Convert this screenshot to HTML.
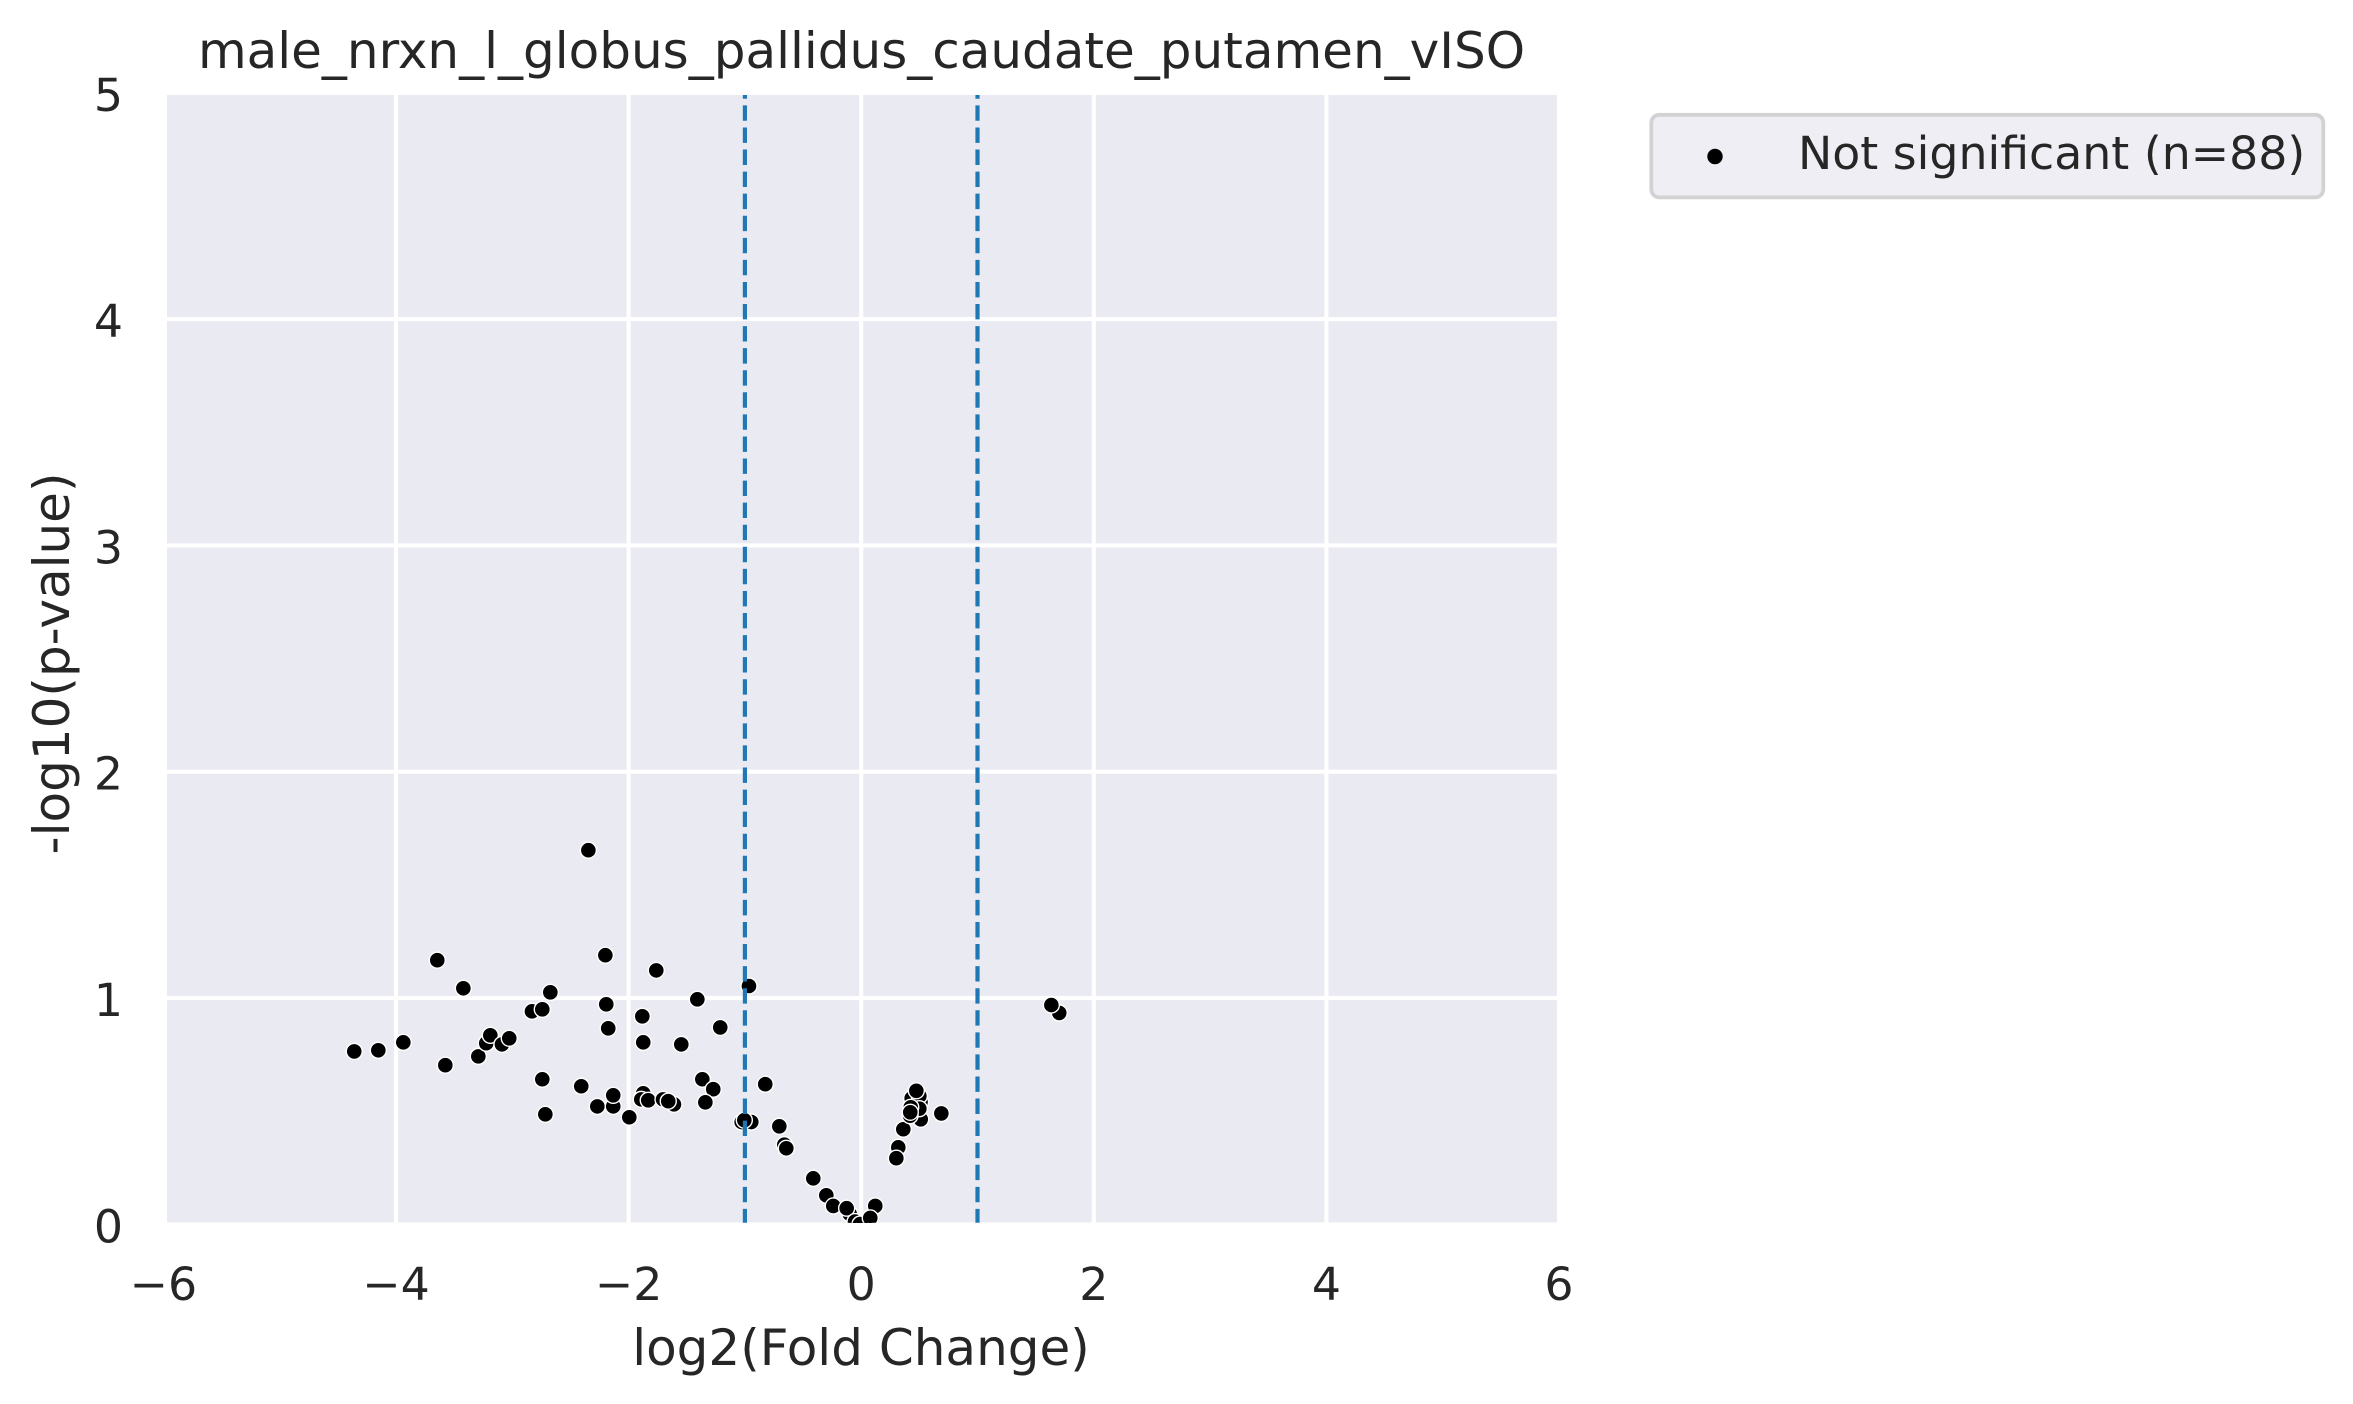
<!DOCTYPE html>
<html lang="en">
<head>
<meta charset="utf-8">
<title>male_nrxn_l_globus_pallidus_caudate_putamen_vISO</title>
<style>
html,body{margin:0;padding:0;background:#fff;}
svg{display:block;}
text{font-family:"DejaVu Sans","Liberation Sans",sans-serif;fill:#262626;}
.tick{font-size:45.8px;}
.label{font-size:50px;}
</style>
</head>
<body>
<svg id="chart" xmlns="http://www.w3.org/2000/svg" width="2353" height="1404" viewBox="0 0 2353 1404">
  <defs>
    <clipPath id="plot-clip"><rect x="167" y="95" width="1390" height="1127.7"></rect></clipPath>
  </defs>
  <rect x="167" y="95" width="1390" height="1127.7" fill="#EAEAF2"></rect>
  <g id="grid" clip-path="url(#plot-clip)"></g>
  <g id="points" clip-path="url(#plot-clip)"></g>
  <g id="thresholds" clip-path="url(#plot-clip)"></g>
  <g id="x-ticks"></g>
  <g id="y-ticks"></g>
  <text class="label" x="861.5" y="68" text-anchor="middle">male_nrxn_l_globus_pallidus_caudate_putamen_vISO</text>
  <text class="label" x="861" y="1365" text-anchor="middle">log2(Fold Change)</text>
  <text class="label" x="0" y="0" text-anchor="middle" transform="translate(69 663.5) rotate(-90)">-log10(p-value)</text>
  <g>
    <rect x="1651.3" y="114.8" width="672" height="82.6" rx="8" ry="8" fill="#EEEEF4" stroke="#D2D2D2" stroke-width="3.8"></rect>
    <circle cx="1715" cy="156.5" r="7.7" fill="#000"></circle>
    <text class="tick" x="1798" y="169">Not significant (n=88)</text>
  </g>
</svg>
<script>
const xTicks = [-6, -4, -2, 0, 2, 4, 6];
const xTickLabels = ["\u22126", "\u22124", "\u22122", "0", "2", "4", "6"];
const yTicks = [0, 1, 2, 3, 4, 5];
const yTickLabels = ["0", "1", "2", "3", "4", "5"];
const thresholds = [-1, 1];
const log2FoldChange = [
  -0.030, 0.020, 0.045, -0.015, 0.040, 0.005, -0.040, 0.035, 0.012, -0.025, 0.030, -0.008, 0.028,
  0.440, 0.510, 0.460, -1.015,
  -2.346, -3.645, -3.421, -2.673, -2.831, -2.742, -2.200, -1.762, -0.965, -1.409, -2.192, -1.882, -2.175, -1.212,
  -4.359, -4.152, -3.937, -3.576, -3.292, -3.224, -3.189, -3.089, -3.026, -1.874, -1.547, -2.742, -2.407, -1.366, -1.272, -0.825, -1.340,
  -2.132, -2.132, -2.269, -1.994, -2.716, -1.874, -1.891, -1.831, -1.704, -1.610, -1.659,
  -0.945, -1.028, -1.005, -0.704, -0.661, -0.644,
  -0.412, -0.300, -0.240, -0.099, -0.125, -0.053, -0.010, 0.121, 0.078,
  0.319, 0.302, 0.362, 0.689, 0.512, 0.434, 0.500, 0.500, 0.474, 0.420, 0.426, 0.422,
  1.703, 1.635
];
const minusLog10P = [
  0.002, 0.002, 0.001, 0.003, 0.002, 0.001, 0.002, 0.001, 0.003, 0.001, 0.002, 0.001, 0.002,
  0.530, 0.540, 0.500, 0.455,
  1.653, 1.167, 1.043, 1.025, 0.941, 0.950, 1.189, 1.122, 1.053, 0.994, 0.972, 0.919, 0.866, 0.870,
  0.764, 0.769, 0.804, 0.703, 0.742, 0.800, 0.835, 0.795, 0.822, 0.804, 0.795, 0.641, 0.610, 0.641, 0.597, 0.619, 0.539,
  0.521, 0.570, 0.521, 0.473, 0.486, 0.579, 0.552, 0.548, 0.552, 0.530, 0.544,
  0.452, 0.452, 0.460, 0.433, 0.352, 0.336,
  0.203, 0.128, 0.081, 0.046, 0.071, 0.012, 0.001, 0.081, 0.028,
  0.340, 0.292, 0.420, 0.490, 0.464, 0.557, 0.567, 0.511, 0.590, 0.480, 0.517, 0.495,
  0.934, 0.969
];

const NS = 'http://www.w3.org/2000/svg';
function xScale(v) { return 861.2 + v * 116.3; }
function yScale(v) { return 1224.3 - v * 226.3; }

const gridGroup = document.getElementById('grid');
const xTickGroup = document.getElementById('x-ticks');
const yTickGroup = document.getElementById('y-ticks');
const pointGroup = document.getElementById('points');
const thresholdGroup = document.getElementById('thresholds');

xTicks.forEach(function (t, i) {
  const line = document.createElementNS(NS, 'line');
  
  
  line.setAttribute('x1', xScale(t));
  line.setAttribute('x2', xScale(t));
  line.setAttribute('y1', 90);
  line.setAttribute('y2', 1230);
  line.setAttribute('stroke', '#fff');
  line.setAttribute('stroke-width', 4.17);
  gridGroup.appendChild(line);
  const label = document.createElementNS(NS, 'text');
  
  
  label.setAttribute('class', 'tick');
  label.setAttribute('x', xScale(t));
  label.setAttribute('y', 1300);
  label.setAttribute('text-anchor', 'middle');
  label.textContent = xTickLabels[i];
  xTickGroup.appendChild(label);
});

yTicks.forEach(function (t, i) {
  const line = document.createElementNS(NS, 'line');
  
  
  line.setAttribute('x1', 160);
  line.setAttribute('x2', 1565);
  line.setAttribute('y1', yScale(t));
  line.setAttribute('y2', yScale(t));
  line.setAttribute('stroke', '#fff');
  line.setAttribute('stroke-width', 4.17);
  gridGroup.appendChild(line);
  const label = document.createElementNS(NS, 'text');
  
  
  label.setAttribute('class', 'tick');
  label.setAttribute('x', 123);
  label.setAttribute('y', yScale(t) + 18);
  label.setAttribute('text-anchor', 'end');
  label.textContent = yTickLabels[i];
  yTickGroup.appendChild(label);
});

log2FoldChange.forEach(function (fc, i) {
  const dot = document.createElementNS(NS, 'circle');
  
  
  dot.setAttribute('cx', xScale(fc));
  dot.setAttribute('cy', yScale(minusLog10P[i]));
  dot.setAttribute('r', 8);
  dot.setAttribute('fill', '#000');
  dot.setAttribute('stroke', '#fff');
  dot.setAttribute('stroke-width', 1.4);
  pointGroup.appendChild(dot);
});

thresholds.forEach(function (t) {
  const line = document.createElementNS(NS, 'line');
  
  
  line.setAttribute('x1', xScale(t));
  line.setAttribute('x2', xScale(t));
  line.setAttribute('y1', yScale(0));
  line.setAttribute('y2', yScale(5));
  line.setAttribute('stroke', '#1F77B4');
  line.setAttribute('stroke-width', 4.17);
  line.setAttribute('stroke-dasharray', '15.4 6.67');
  thresholdGroup.appendChild(line);
});
</script>
</body>
</html>
